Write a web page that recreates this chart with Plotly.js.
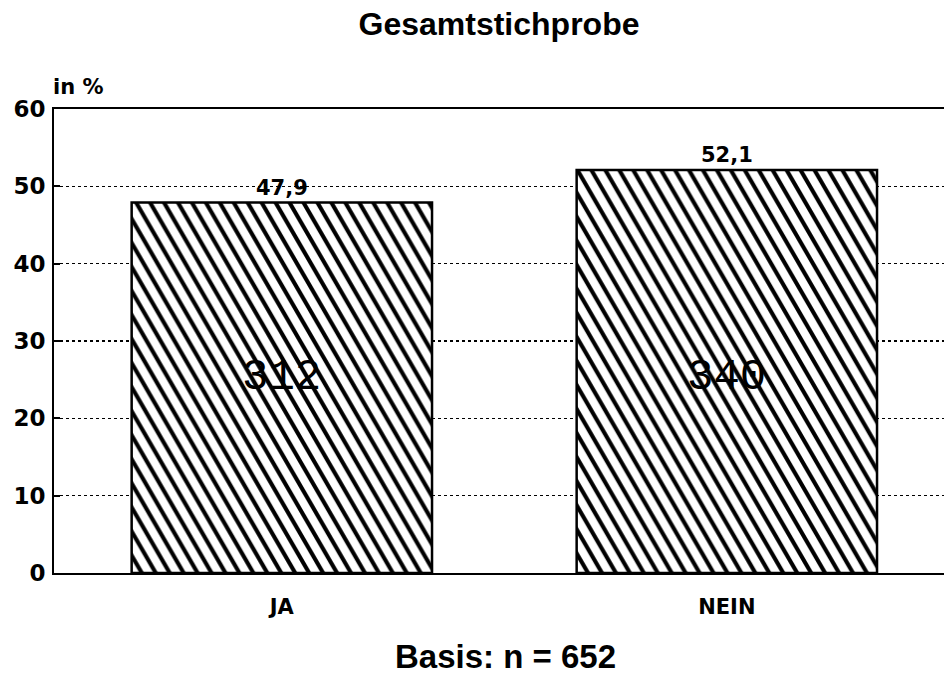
<!DOCTYPE html>
<html>
<head>
<meta charset="utf-8">
<script src="https://cdn.plot.ly/plotly-3.0.1.min.js"></script>
<style>
  html, body { margin: 0; padding: 0; background: #ffffff; }
  #chart { width: 944px; height: 678px; }
</style>
</head>
<body>
<div id="chart"></div>
<script>
// ---- data ----
const categories = ['JA', 'NEIN'];
const percents = [47.9, 52.1];
const percentLabels = ['47,9', '52,1'];
const counts = [312, 340];
const titleText = 'Gesamtstichprobe';
const unitLabel = 'in %';
const baseText = 'Basis: n = 652';
const yTicks = [0, 10, 20, 30, 40, 50, 60];

const boldFont = 'DejaVu Sans, Liberation Sans, Arial, sans-serif';
const helvBold = 'Liberation Sans, Arial, sans-serif';

const trace = {
  type: 'bar',
  x: categories,
  y: percents,
  width: 0.675,
  marker: {
    color: '#ffffff',
    line: { color: '#000000', width: 2.5 },
    pattern: { shape: '\\', fgcolor: '#000000', bgcolor: '#ffffff', size: 17, solidity: 0.34, fillmode: 'replace' }
  },
  hoverinfo: 'none'
};

const annotations = [];
categories.forEach(function (c, i) {
  annotations.push({
    x: c, y: percents[i], xref: 'x', yref: 'y',
    text: percentLabels[i], showarrow: false,
    yanchor: 'bottom', yshift: 1,
    font: { family: boldFont, size: 21, color: '#000', weight: 700 }
  });
  annotations.push({
    x: c, y: 25.4, xref: 'x', yref: 'y',
    text: String(counts[i]), showarrow: false,
    yanchor: 'middle',
    font: { family: 'Liberation Mono, Courier New, monospace', size: 44, color: '#000' }
  });
});
annotations.push({
  xref: 'paper', yref: 'paper', x: 0, y: 1, xanchor: 'left', yanchor: 'bottom',
  xshift: -3, yshift: 8,
  text: unitLabel, showarrow: false,
  font: { family: boldFont, size: 21, color: '#000', weight: 700 }
});
annotations.push({
  xref: 'paper', yref: 'paper', x: 0.5, y: 0, xanchor: 'center', yanchor: 'top',
  xshift: 6, yshift: -63,
  text: baseText, showarrow: false,
  font: { family: helvBold, size: 33, color: '#000', weight: 700 }
});

const layout = {
  width: 944, height: 678,
  margin: { l: 54, r: 0, t: 109, b: 105 },
  paper_bgcolor: '#ffffff', plot_bgcolor: '#ffffff',
  showlegend: false,
  title: {
    text: titleText,
    xref: 'paper', x: 0.5, xanchor: 'center',
    yref: 'container', y: 0.965, yanchor: 'middle',
    font: { family: helvBold, size: 32, color: '#000', weight: 700 }
  },
  xaxis: {
    type: 'category',
    range: [-0.512, 1.488],
    showline: true, linecolor: '#000', linewidth: 2, mirror: true,
    ticks: '', showgrid: false, zeroline: false,
    ticklabelstandoff: 14,
    tickfont: { family: boldFont, size: 21, color: '#000', weight: 700 }
  },
  yaxis: {
    range: [0, 60],
    tickvals: yTicks,
    showline: true, linecolor: '#000', linewidth: 2, mirror: false,
    ticks: 'inside', ticklen: 6, tickwidth: 2, tickcolor: '#000',
    showgrid: true, gridcolor: '#000', gridwidth: 1.5, griddash: 'dot',
    zeroline: false,
    ticklabelstandoff: 2,
    tickfont: { family: boldFont, size: 23, color: '#000', weight: 700 }
  },
  annotations: annotations
};

Plotly.newPlot('chart', [trace], layout, { staticPlot: true, displayModeBar: false }).then(function (gd) {
  // steepen the hatch lines like the plotter original
  gd.querySelectorAll('pattern').forEach(function (p) {
    p.setAttribute('patternTransform', 'scale(0.58,1)');
  });
});
</script>
</body>
</html>
